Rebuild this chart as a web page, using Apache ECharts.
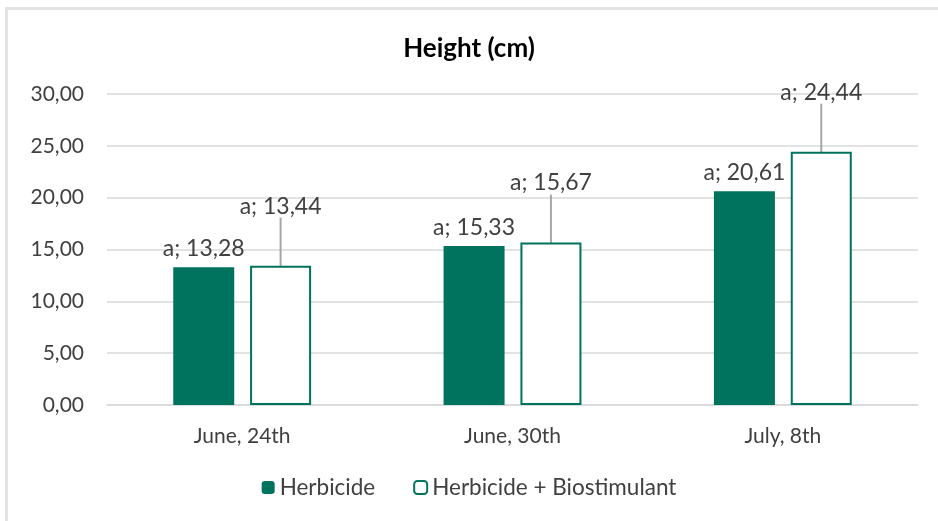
<!DOCTYPE html>
<html>
<head>
<meta charset="utf-8">
<script src="https://cdn.jsdelivr.net/npm/echarts@6/dist/echarts.min.js"></script>
<style>
	html, body { margin: 0; padding: 0; background: #fff; }
	#frame { position: absolute; left: 5px; top: 7px; width: 940px; height: 520px; border-top: 3px solid #e3e3e3; border-left: 3px solid #e3e3e3; }
	#chart { position: absolute; left: 0; top: 0; width: 938px; height: 521px; }
</style>
</head>
<body>
<div id="frame"></div>
<div id="chart"></div>
<script>
const categories = ["June, 24th", "June, 30th", "July, 8th"];
const herbicide = [13.28, 15.33, 20.61];
const herbBio = [13.44, 15.67, 24.44];
const letters = ["a", "a", "a"];
const yTicks = { min: 0, max: 30, interval: 5 };

const font = "Lato, 'Open Sans', sans-serif";
const teal = "#00735f";

function fmt(v) {
	return v.toFixed(2).replace(".", ",");
}

let chart = echarts.init(document.getElementById("chart"));
let option = {
	animation: false,
	title: {
		text: "Height (cm)",
		left: "center",
		top: 31,
		textStyle: { fontFamily: font, fontSize: 26, fontWeight: "bold", color: "#000" }
	},
	legend: {
		bottom: 17,
		left: "center",
		itemWidth: 13,
		itemHeight: 13,
		itemGap: 38,
		textStyle: { fontFamily: font, fontSize: 22.5, color: "#404040" },
		data: [
			{ name: "Herbicide", itemStyle: { color: teal, borderWidth: 0 } },
			{ name: "Herbicide + Biostimulant", itemStyle: { color: "#fff", borderColor: teal, borderWidth: 2 } }
		]
	},
	grid: { left: 107, right: 20, top: 94, bottom: 116 },
	xAxis: {
		type: "category",
		data: categories,
		axisTick: { show: false },
		axisLine: { lineStyle: { color: "#d9d9d9", width: 1.5 } },
		axisLabel: { fontFamily: font, fontSize: 21, color: "#404040", margin: 21 }
	},
	yAxis: {
		type: "value",
		min: yTicks.min,
		max: yTicks.max,
		interval: yTicks.interval,
		axisLine: { show: false },
		axisTick: { show: false },
		splitLine: { lineStyle: { color: "#d9d9d9", width: 1.5 } },
		axisLabel: { fontFamily: font, fontSize: 21, color: "#404040", margin: 23, formatter: fmt }
	},
	series: [
		{
			name: "Herbicide",
			type: "bar",
			data: herbicide,
			barWidth: 61,
			barGap: "26%",
			itemStyle: { color: teal },
			label: {
				show: true,
				position: "top",
				distance: 7,
				fontFamily: font,
				fontSize: 23,
				color: "#404040",
				formatter: function(p) { return letters[p.dataIndex] + "; " + fmt(p.value); }
			}
		},
		{
			name: "Herbicide + Biostimulant",
			type: "bar",
			data: herbBio,
			barWidth: 61,
			itemStyle: { color: "#fff", borderColor: teal, borderWidth: 2 },
			label: {
				show: true,
				position: "top",
				distance: 7,
				fontFamily: font,
				fontSize: 23,
				color: "#404040",
				formatter: function(p) { return letters[p.dataIndex] + "; " + fmt(p.value); }
			},
			labelLayout: { dy: -41 },
			labelLine: { show: true, lineStyle: { color: "#a6a6a6", width: 2 } }
		}
	]
};
chart.setOption(option);
</script>
</body>
</html>
